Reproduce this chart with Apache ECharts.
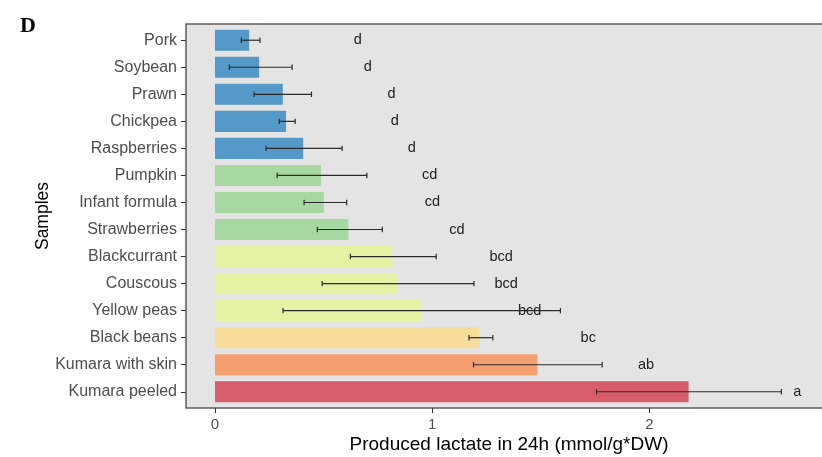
<!DOCTYPE html>
<html>
<head>
<meta charset="utf-8">
<script src="https://cdn.jsdelivr.net/npm/echarts@6/dist/echarts.min.js"></script>
<style>
  html, body { margin: 0; padding: 0; background: #ffffff; }
  #chart { width: 822px; height: 457px; }
</style>
</head>
<body>
<div id="chart"></div>
<script>
// Samples, listed top to bottom
const categories = ['Pork', 'Soybean', 'Prawn', 'Chickpea', 'Raspberries', 'Pumpkin',
  'Infant formula', 'Strawberries', 'Blackcurrant', 'Couscous', 'Yellow peas',
  'Black beans', 'Kumara with skin', 'Kumara peeled'];

// Mean produced lactate (mmol/g*DW)
const means = [0.157, 0.203, 0.312, 0.327, 0.406, 0.488, 0.501, 0.614, 0.817, 0.840, 0.948, 1.218, 1.484, 2.180];

// Error bar ends
const lower = [0.121, 0.066, 0.180, 0.296, 0.235, 0.286, 0.410, 0.471, 0.623, 0.493, 0.313, 1.169, 1.190, 1.756];
const upper = [0.207, 0.355, 0.444, 0.369, 0.585, 0.699, 0.606, 0.770, 1.018, 1.192, 1.590, 1.279, 1.782, 2.607];

// Significance groups
const letters = ['d', 'd', 'd', 'd', 'd', 'cd', 'cd', 'cd', 'bcd', 'bcd', 'bcd', 'bc', 'ab', 'a'];

// Fill group for each sample
const fillGroup = [0, 0, 0, 0, 0, 1, 1, 1, 2, 2, 2, 3, 4, 5];
const palette = ['#5499c7', '#a8d8a1', '#e5f2a3', '#f7dd99', '#f59e70', '#d75d6b'];

// Letters sit a fixed offset to the right of each mean
const letterOffset = 0.5;

// x-axis tick values
const xTicks = [0, 1, 2];

const idx = categories.map((_, i) => i);

const chart = echarts.init(document.getElementById('chart'), null, { renderer: 'canvas' });

const option = {
  animation: false,
  backgroundColor: '#ffffff',
  textStyle: { fontFamily: 'Liberation Sans, Arial, sans-serif' },
  title: {
    text: 'D',
    left: 15,
    top: 10,
    textStyle: { fontFamily: 'Liberation Serif, Times New Roman, serif', fontWeight: 'bold', fontSize: 22, color: '#000' }
  },
  grid: {
    left: 186,
    top: 24,
    width: 646,
    height: 384,
    outerBoundsMode: 'none',
    containLabel: false,
    show: true,
    backgroundColor: '#e4e4e4',
    borderColor: '#5c5c5c',
    borderWidth: 1.5
  },
  xAxis: {
    type: 'value',
    min: -0.1335,
    max: 2.84,
    name: 'Produced lactate in 24h (mmol/g*DW)',
    nameLocation: 'middle',
    nameGap: 27,
    nameMoveOverlap: false,
    nameTextStyle: { fontSize: 19, color: '#000' },
    splitLine: { show: false },
    axisLine: { show: false, onZero: false },
    axisTick: { show: true, customValues: xTicks, length: 5, lineStyle: { color: '#333', width: 1 } },
    axisLabel: { customValues: xTicks, fontSize: 15, color: '#4d4d4d', margin: 9 }
  },
  yAxis: {
    type: 'value',
    inverse: true,
    min: -0.6,
    max: 13.6,
    name: 'Samples',
    nameLocation: 'middle',
    nameGap: 134,
    nameMoveOverlap: false,
    nameRotate: 90,
    nameTextStyle: { fontSize: 17.5, color: '#000' },
    splitLine: { show: false },
    axisLine: { show: false, onZero: false },
    axisTick: { show: true, customValues: idx, length: 5, lineStyle: { color: '#333', width: 1 } },
    axisLabel: {
      customValues: idx,
      fontSize: 16,
      color: '#4d4d4d',
      margin: 9,
      formatter: v => categories[Math.round(v)]
    }
  },
  series: [
    {
      // bars
      type: 'custom',
      data: idx.map(i => [i, means[i], fillGroup[i]]),
      encode: { x: 1, y: 0 },
      renderItem: function (params, api) {
        const i = api.value(0);
        const v = api.value(1);
        const p0 = api.coord([0, i]);
        const p1 = api.coord([v, i]);
        const h = api.size([0, 0.78])[1];
        return {
          type: 'rect',
          shape: { x: p0[0], y: p0[1] - h / 2, width: p1[0] - p0[0], height: h },
          style: { fill: palette[api.value(2)] }
        };
      }
    },
    {
      // error bars
      type: 'custom',
      data: idx.map(i => [i, lower[i], upper[i]]),
      encode: { x: [1, 2], y: 0 },
      renderItem: function (params, api) {
        const i = api.value(0);
        const a = api.coord([api.value(1), i]);
        const b = api.coord([api.value(2), i]);
        const c = api.size([0, 0.2])[1] / 2;
        const st = { stroke: '#2b2b2b', lineWidth: 1.2 };
        return {
          type: 'group',
          children: [
            { type: 'line', shape: { x1: a[0], y1: a[1], x2: b[0], y2: b[1] }, style: st },
            { type: 'line', shape: { x1: a[0], y1: a[1] - c, x2: a[0], y2: a[1] + c }, style: st },
            { type: 'line', shape: { x1: b[0], y1: b[1] - c, x2: b[0], y2: b[1] + c }, style: st }
          ]
        };
      }
    },
    {
      // significance letters
      type: 'custom',
      data: idx.map(i => [i, means[i] + letterOffset]),
      encode: { x: 1, y: 0 },
      renderItem: function (params, api) {
        const i = api.value(0);
        const p = api.coord([api.value(1), i]);
        return {
          type: 'text',
          x: p[0],
          y: p[1],
          style: {
            text: letters[params.dataIndex],
            fill: '#222',
            fontSize: 14.5,
            fontFamily: 'Liberation Sans, Arial, sans-serif',
            align: 'center',
            verticalAlign: 'middle'
          }
        };
      }
    }
  ]
};

chart.setOption(option);
</script>
</body>
</html>
